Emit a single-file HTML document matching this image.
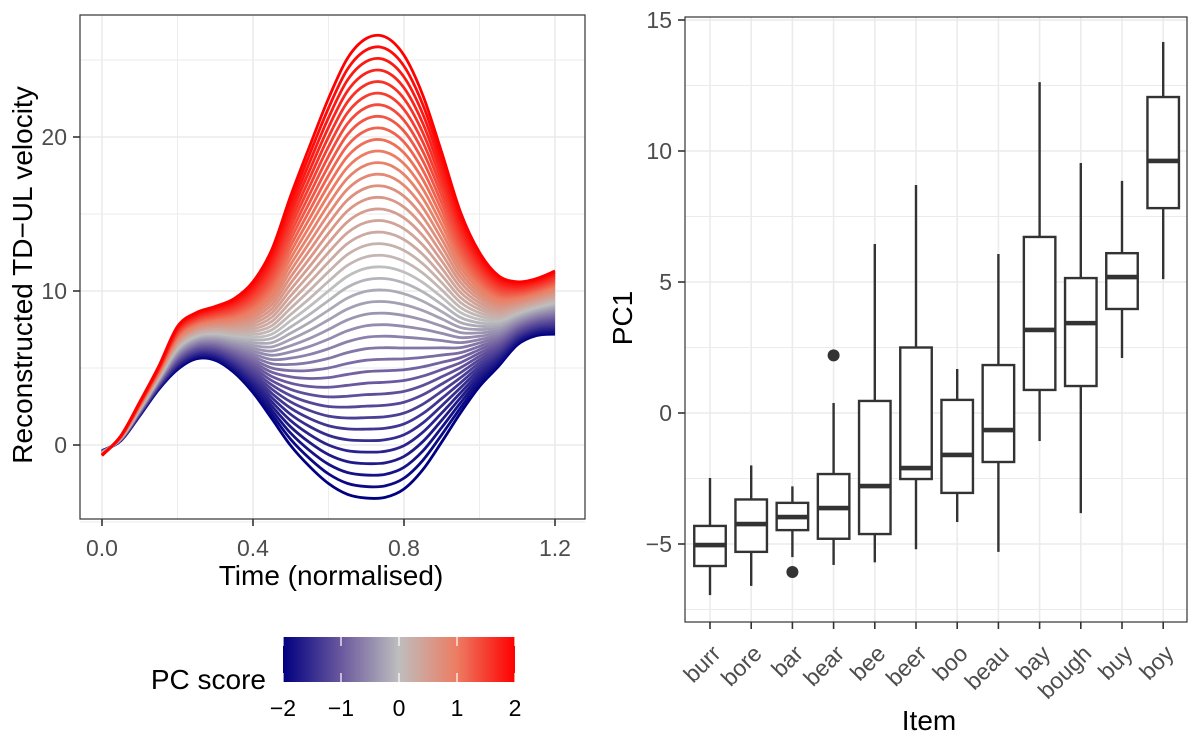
<!DOCTYPE html>
<html><head><meta charset="utf-8"><style>
html,body{margin:0;padding:0;background:#fff;}
svg{display:block;font-family:"Liberation Sans",sans-serif;}
</style></head><body>
<svg id="chart" width="1200" height="749" viewBox="0 0 1200 749" xmlns="http://www.w3.org/2000/svg">
<defs>
<clipPath id="lclip"><rect x="80" y="15" width="505" height="504"/></clipPath>
<linearGradient id="cbar" x1="0" x2="1" y1="0" y2="0">
<stop offset="0" stop-color="#000080"/><stop offset="0.25" stop-color="#6a589e"/><stop offset="0.5" stop-color="#bebebe"/><stop offset="0.75" stop-color="#ec7c62"/><stop offset="1" stop-color="#ff0000"/>
</linearGradient>
</defs>
<g id="left"></g>
<g id="right"></g>
</svg>
<script>
// ---- left chart data ----
const times = [0,0.05,0.1,0.15,0.2,0.25,0.3,0.35,0.4,0.45,0.5,0.55,0.6,0.65,0.7,0.75,0.8,0.85,0.9,0.95,1.0,1.05,1.1,1.15,1.2];
const meanCurve = [-0.53,0.44,2.35,4.35,6.3,7.1,7.25,7.1,7.0,7.2,8.075,9.0,10.0,10.95,11.475,11.55,11.225,10.55,9.6,8.6,8.15,8.05,8.55,8.95,9.25];
const pcLoading = [-0.08,0.08,0.225,0.375,0.7,0.75,0.875,1.2,1.8,2.75,4.06,5.2,6.25,7.075,7.46,7.475,7.04,6.075,4.7,3.25,2.175,1.475,1.025,0.925,1.025];
const pcScores = [-2,-1.9,-1.8,-1.7,-1.6,-1.5,-1.4,-1.3,-1.2,-1.1,-1,-0.9,-0.8,-0.7,-0.6,-0.5,-0.4,-0.3,-0.2,-0.1,0,0.1,0.2,0.3,0.4,0.5,0.6,0.7,0.8,0.9,1,1.1,1.2,1.3,1.4,1.5,1.6,1.7,1.8,1.9,2];
const xTicksL = [0,0.4,0.8,1.2];
const xTickLabelsL = ["0.0","0.4","0.8","1.2"];
const yTicksL = [0,10,20];
const legendTicks = [-2,-1,0,1,2];
// ---- right chart data ----
const items = ["burr","bore","bar","bear","bee","beer","boo","beau","bay","bough","buy","boy"];
const whiskLow = [-6.95,-6.6,-5.5,-5.8,-5.7,-5.2,-4.16,-5.3,-1.07,-3.82,2.1,5.11];
const q1 = [-5.84,-5.3,-4.47,-4.8,-4.62,-2.52,-3.05,-1.87,0.88,1.03,3.97,7.82];
const medians = [-5.04,-4.24,-3.97,-3.63,-2.79,-2.1,-1.6,-0.65,3.17,3.43,5.19,9.62];
const q3 = [-4.31,-3.3,-3.43,-2.33,0.46,2.5,0.5,1.83,6.72,5.15,6.1,12.06];
const whiskHigh = [-2.48,-2.0,-2.8,0.38,6.45,8.7,1.68,6.07,12.63,9.54,8.86,14.16];
const outlierItems = ["bar","bear"];
const outlierValues = [-6.07,2.2];
const yTicksR = [-5,0,5,10,15];

const NS="http://www.w3.org/2000/svg";
function mk(parent,tag,attrs,text){const e=document.createElementNS(NS,tag);for(const k in attrs)e.setAttribute(k,attrs[k]);if(text!==undefined)e.textContent=text;parent.appendChild(e);return e;}

// ===== LEFT =====
const L=document.getElementById('left');
const lx=t=>102+t*377.5;
const ly=v=>445-v*15.4;
{
  for(let k=0;k<=6;k++){const t=k*0.2;const g=mk(L,'line',{x1:lx(t),x2:lx(t),y1:15,y2:519,stroke:'#ebebeb','stroke-width':k%2==0?1.6:0.9});
    }
  for(let v=-5;v<=25;v+=5){const g=mk(L,'line',{x1:80,x2:585,y1:ly(v),y2:ly(v),stroke:'#ebebeb','stroke-width':v%10==0?1.6:0.9});
    }
}
function lerp(a,b,f){return a+(b-a)*f;}
const stops=[[0,0,128],[106,88,158],[190,190,190],[236,124,98],[255,0,0]];
function colorFor(s){let p=(s+2)/4*4;let i=Math.min(3,Math.floor(p));let f=p-i;const a=stops[i],b=stops[i+1];
  return `rgb(${Math.round(lerp(a[0],b[0],f))},${Math.round(lerp(a[1],b[1],f))},${Math.round(lerp(a[2],b[2],f))})`;}
function smoothPath(pts){let d=`M${pts[0][0]},${pts[0][1]}`;
  for(let i=0;i<pts.length-1;i++){const p0=pts[Math.max(0,i-1)],p1=pts[i],p2=pts[i+1],p3=pts[Math.min(pts.length-1,i+2)];
    const c1=[p1[0]+(p2[0]-p0[0])/6,p1[1]+(p2[1]-p0[1])/6],c2=[p2[0]-(p3[0]-p1[0])/6,p2[1]-(p3[1]-p1[1])/6];
    d+=` C${c1[0].toFixed(2)},${c1[1].toFixed(2)} ${c2[0].toFixed(2)},${c2[1].toFixed(2)} ${p2[0].toFixed(2)},${p2[1].toFixed(2)}`;}
  return d;}
const curves=mk(L,'g',{'clip-path':'url(#lclip)'});


pcScores.forEach(s=>{
  const pts=times.map((t,i)=>[lx(t),ly(meanCurve[i]+s*pcLoading[i])]);
  const p=mk(curves,'path',{d:smoothPath(pts),fill:'none',stroke:colorFor(s),'stroke-width':2.8,'stroke-linejoin':'round'});
  
  
});
{
  const b=mk(L,'rect',{x:80,y:15,width:505,height:504,fill:'none',stroke:'#333','stroke-width':1.2});
  
  xTicksL.forEach((t,i)=>{mk(L,'line',{x1:lx(t),x2:lx(t),y1:519,y2:526,stroke:'#333','stroke-width':1.6});
    const tl=mk(L,'text',{x:lx(t),y:556,'text-anchor':'middle','font-size':23,fill:'#4d4d4d'},xTickLabelsL[i]);
    });
  yTicksL.forEach(v=>{mk(L,'line',{x1:73,x2:80,y1:ly(v),y2:ly(v),stroke:'#333','stroke-width':1.6});
    const tl=mk(L,'text',{x:67,y:ly(v)+8,'text-anchor':'end','font-size':23,fill:'#4d4d4d'},String(v));
    });
  const xt=mk(L,'text',{x:331,y:585,'text-anchor':'middle','font-size':28,fill:'#000'},'Time (normalised)');
  
  const yt=mk(L,'text',{x:0,y:0,'text-anchor':'middle','font-size':28,fill:'#000',transform:'translate(32,275) rotate(-90)'},'Reconstructed TD\u2212UL velocity');
  
  const lg=mk(L,'g',{});
  
  const lt=mk(lg,'text',{x:266,y:689,'text-anchor':'end','font-size':28,fill:'#000'},'PC score');
  
  const cb=mk(lg,'rect',{x:283,y:637,width:232,height:45,fill:'url(#cbar)'});
  
  const cx=s=>283+(s+2)/4*232;
  legendTicks.forEach(s=>{
    mk(lg,'line',{x1:cx(s),x2:cx(s),y1:637,y2:646,stroke:'#fff','stroke-width':1.2});
    mk(lg,'line',{x1:cx(s),x2:cx(s),y1:673,y2:682,stroke:'#fff','stroke-width':1.2});
    const t=mk(lg,'text',{x:cx(s),y:716,'text-anchor':'middle','font-size':23,fill:'#000'},s<0?'\u2212'+Math.abs(s):String(s));
    
  });
}

// ===== RIGHT =====
const R=document.getElementById('right');
const rx=i=>710+i*41.2;
const ry=v=>413-v*26.2;
{
  for(let v=-7.5;v<=15;v+=2.5){const g=mk(R,'line',{x1:685,x2:1187,y1:ry(v),y2:ry(v),stroke:'#ebebeb','stroke-width':v%5==0?1.6:0.9});
    }
  items.forEach((it,i)=>{const g=mk(R,'line',{x1:rx(i),x2:rx(i),y1:17,y2:622,stroke:'#ebebeb','stroke-width':1.6});
    });
  const bw=31.5;
  items.forEach((it,i)=>{
    const g=mk(R,'g',{});
    
    const x=rx(i);
    mk(g,'line',{x1:x,x2:x,y1:ry(whiskHigh[i]),y2:ry(q3[i]),stroke:'#333','stroke-width':2.4});
    mk(g,'line',{x1:x,x2:x,y1:ry(q1[i]),y2:ry(whiskLow[i]),stroke:'#333','stroke-width':2.4});
    mk(g,'rect',{x:x-bw/2,y:ry(q3[i]),width:bw,height:ry(q1[i])-ry(q3[i]),fill:'#fff',stroke:'#333','stroke-width':2.4});
    mk(g,'line',{x1:x-bw/2,x2:x+bw/2,y1:ry(medians[i]),y2:ry(medians[i]),stroke:'#333','stroke-width':4.6});
  });
  outlierItems.forEach((it,k)=>{
    const c=mk(R,'circle',{cx:rx(items.indexOf(it)),cy:ry(outlierValues[k]),r:6,fill:'#333'});
    
  });
  const b=mk(R,'rect',{x:685,y:17,width:502,height:605,fill:'none',stroke:'#333','stroke-width':1.2});
  
  yTicksR.forEach(v=>{mk(R,'line',{x1:678,x2:685,y1:ry(v),y2:ry(v),stroke:'#333','stroke-width':1.6});
    const t=mk(R,'text',{x:672,y:ry(v)+8,'text-anchor':'end','font-size':23,fill:'#4d4d4d'},v<0?'\u2212'+Math.abs(v):String(v));
    });
  items.forEach((it,i)=>{
    mk(R,'line',{x1:rx(i),x2:rx(i),y1:622,y2:629,stroke:'#333','stroke-width':1.6});
    const t=mk(R,'text',{x:0,y:0,'text-anchor':'end','font-size':23,fill:'#4d4d4d',transform:`translate(${rx(i)+12},${655}) rotate(-45)`},it);
    
  });
  const xt=mk(R,'text',{x:929,y:730,'text-anchor':'middle','font-size':28,fill:'#000'},'Item');
  
  const yt=mk(R,'text',{x:0,y:0,'text-anchor':'middle','font-size':28,fill:'#000',transform:'translate(632,318) rotate(-90)'},'PC1');
  
}
</script>
</body></html>
